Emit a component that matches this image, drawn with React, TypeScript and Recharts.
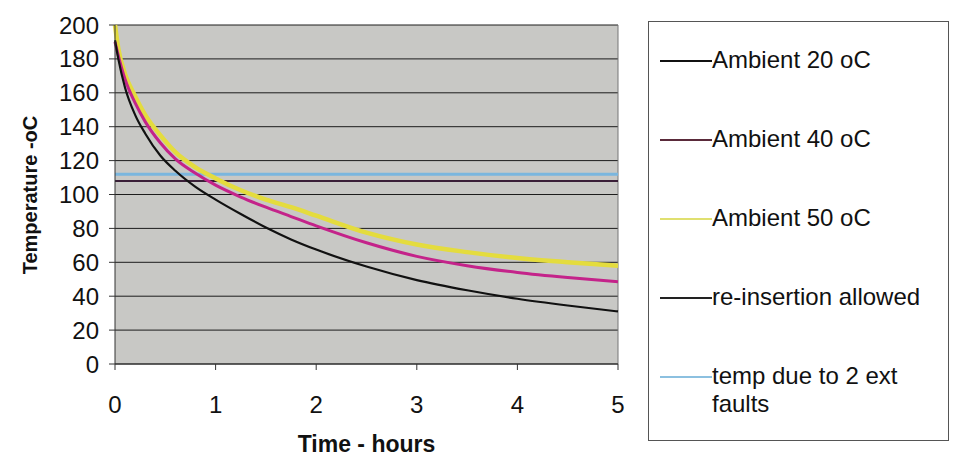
import React from "react";
import { LineChart, Line, XAxis, YAxis, CartesianGrid, ReferenceLine } from "recharts";

const hours = [0, 0.033, 0.1, 0.2, 0.3, 0.45, 0.6, 0.8, 1, 1.25, 1.5, 1.75, 2, 2.5, 3, 3.5, 4, 4.5, 5];
const ambient20 = [191, 180, 163, 147, 136, 123, 114, 104.5, 97, 88.5, 80.5, 73.5, 67.5, 57.5, 49.5, 43.5, 38.5, 34.5, 31];
const ambient40 = [190, 182, 168, 154, 143, 130.5, 121, 112.5, 105.5, 98.5, 92.5, 87, 81.5, 71.5, 63.5, 58, 54, 51, 48.5];
const ambient50 = [200, 186, 171, 158, 147, 135, 125, 116, 109.5, 102.5, 97, 92.5, 87.5, 77.5, 70.5, 66, 62.5, 60, 58];
const reinsertion = [108, 108, 108, 108, 108, 108, 108, 108, 108, 108, 108, 108, 108, 108, 108, 108, 108, 108, 108];
const extFaults = [112, 112, 112, 112, 112, 112, 112, 112, 112, 112, 112, 112, 112, 112, 112, 112, 112, 112, 112];

const xTicks = [0, 1, 2, 3, 4, 5];
const yTicks = [0, 20, 40, 60, 80, 100, 120, 140, 160, 180, 200];

const data = hours.map((h, i) => ({
  h,
  a20: ambient20[i],
  a40: ambient40[i],
  a50: ambient50[i],
  re: reinsertion[i],
  ext: extFaults[i],
}));

// drawn back to front: flat lines first, then the cooling curves
const series = [
  { key: "ext", label: "temp due to 2 ext faults", color: "#7ab6de", legend: "#8cc0e0", width: 3 },
  { key: "re", label: "re-insertion allowed", color: "#3a1f38", legend: "#222", width: 2 },
  { key: "a50", label: "Ambient 50 oC", color: "#e4dc3e", legend: "#e0e070", width: 4.5 },
  { key: "a40", label: "Ambient 40 oC", color: "#c4238a", legend: "#5a2a3a", width: 3 },
  { key: "a20", label: "Ambient 20 oC", color: "#111111", legend: "#111", width: 2.2 },
];

const legendOrder = ["a20", "a40", "a50", "re", "ext"];

const font = "'Liberation Sans', Arial, sans-serif";

function XTick(props: any) {
  const { x, y, payload } = props;
  return (
    <text x={x} y={y + 41} textAnchor="middle" fontSize={24} fill="#111" fontFamily={font}>
      {payload.value}
    </text>
  );
}

function YTick(props: any) {
  const { x, y, payload } = props;
  return (
    <text x={x - 8} y={y + 8.5} textAnchor="end" fontSize={24} fill="#111" fontFamily={font}>
      {payload.value}
    </text>
  );
}

function LegendBox() {
  return (
    <div
      style={{
        position: "absolute",
        left: 648,
        top: 21,
        width: 301,
        height: 420,
        border: "1px solid #555",
        background: "#fff",
        fontFamily: font,
        fontSize: 24,
        color: "#111",
        boxSizing: "border-box",
        paddingTop: 24,
      }}
    >
      {legendOrder.map((k) => {
        const s = series.find((d) => d.key === k)!;
        return (
          <div key={k} style={{ display: "flex", alignItems: "flex-start", height: 79, paddingLeft: 11 }}>
            <div style={{ width: 52, height: 2, background: s.legend, marginTop: 14, flexShrink: 0 }} />
            <div style={{ width: 235, lineHeight: "28px" }}>{s.label}</div>
          </div>
        );
      })}
    </div>
  );
}

export default function App() {
  return (
    <div style={{ position: "absolute", left: 0, top: 0, width: 955, height: 472, background: "#fff" }}>
      <LineChart width={955} height={472} data={data} margin={{ top: 25, right: 337, bottom: 48, left: 55 }}>
        <CartesianGrid vertical={false} fill="#c8c8c5" stroke="#1c1c1c" />
        <XAxis
          dataKey="h"
          type="number"
          domain={[0, 5]}
          ticks={xTicks}
          height={60}
          stroke="#333"
          tickSize={6}
          tick={<XTick />}
          label={{
            content: (p: any) => (
              <text
                x={p.viewBox.x + p.viewBox.width / 2}
                y={452}
                textAnchor="middle"
                fontSize={23}
                fontWeight="bold"
                fill="#111"
                fontFamily={font}
              >
                Time - hours
              </text>
            ),
          }}
        />
        <YAxis
          type="number"
          domain={[0, 200]}
          ticks={yTicks}
          width={60}
          stroke="#333"
          tickSize={6}
          interval={0}
          tick={<YTick />}
          label={{
            content: () => (
              <text
                x={37}
                y={195}
                transform="rotate(-90 37 195)"
                textAnchor="middle"
                fontSize={20}
                fontWeight="bold"
                fill="#111"
                fontFamily={font}
              >
                Temperature -oC
              </text>
            ),
          }}
        />
        <ReferenceLine x={5} stroke="#777" strokeWidth={1} />
        {series.map((s) => (
          <Line
            key={s.key}
            dataKey={s.key}
            type={s.key === "re" || s.key === "ext" ? "linear" : "monotone"}
            stroke={s.color}
            strokeWidth={s.width}
            dot={false}
            isAnimationActive={false}
          />
        ))}
      </LineChart>
      <LegendBox />
    </div>
  );
}
